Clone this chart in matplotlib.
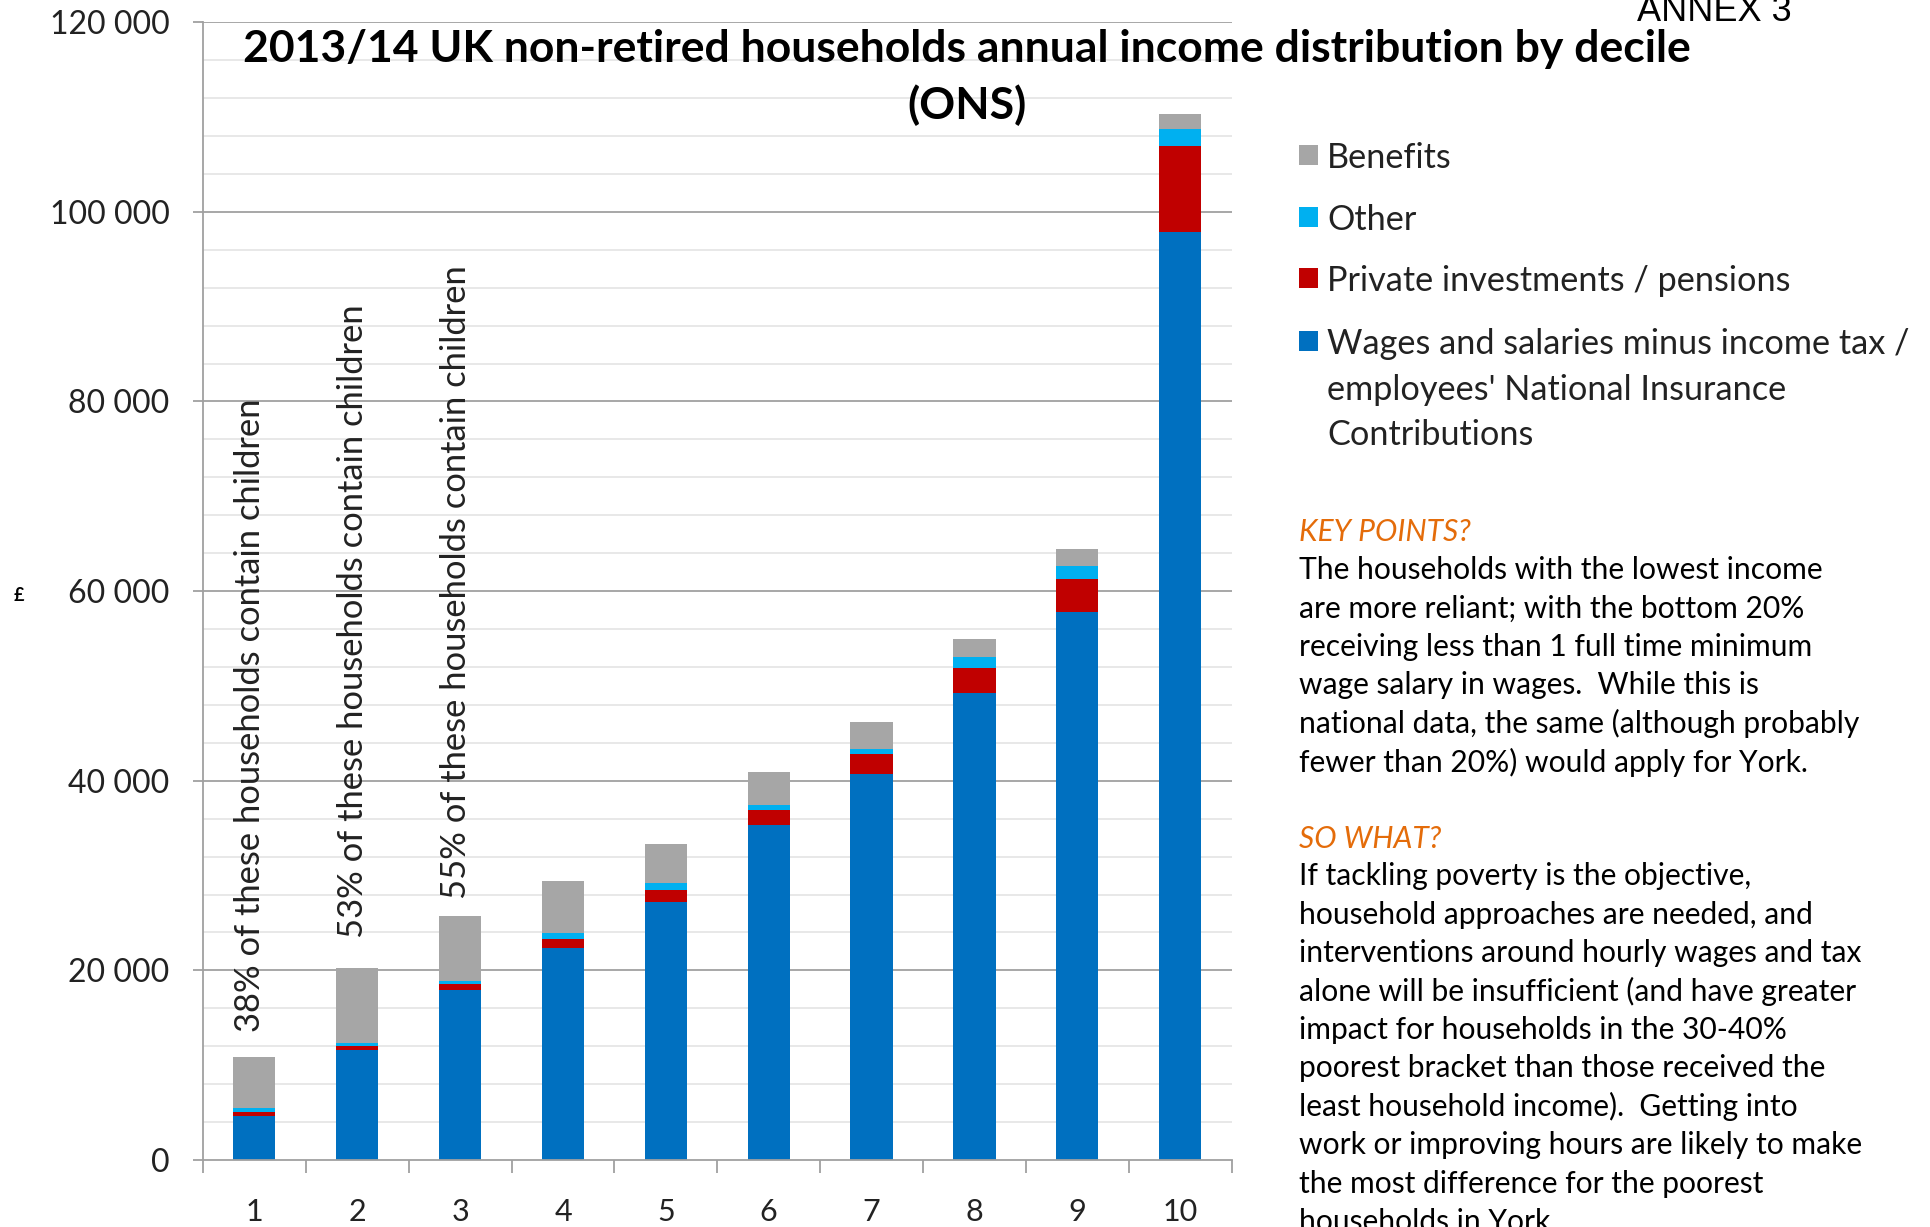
import matplotlib
matplotlib.use("Agg")
import matplotlib.pyplot as plt
from matplotlib.patches import Rectangle
import numpy as np

plt.rcParams['font.family'] = ['Lato', 'DejaVu Sans']

# ONS 2013/14, non-retired households, mean annual income per decile (GBP)
deciles = ['1', '2', '3', '4', '5', '6', '7', '8', '9', '10']
wages = [4600, 11600, 17900, 22400, 27250, 35300, 40700, 49300, 57800, 97900]
private = [460, 420, 680, 960, 1240, 1600, 2150, 2550, 3500, 9080]
other = [430, 290, 280, 530, 680, 550, 500, 1200, 1350, 1760]
benefits = [5390, 7940, 6850, 5530, 4140, 3500, 2800, 1900, 1750, 1620]

children_notes = ["38% of these households contain children",
                  "53% of these households contain children",
                  "55% of these households contain children"]
note_y = [13500, 23400, 27500]

series = [("Wages and salaries minus income tax /\nemployees' National Insurance\nContributions", wages, '#0070C0'),
          ("Private investments / pensions", private, '#C00000'),
          ("Other", other, '#00B0F0'),
          ("Benefits", benefits, '#A6A6A6')]

key_points = ["The households with the lowest income",
              "are more reliant; with the bottom 20%",
              "receiving less than 1 full time minimum",
              "wage salary in wages.  While this is",
              "national data, the same (although probably",
              "fewer than 20%) would apply for York."]
so_what = ["If tackling poverty is the objective,",
           "household approaches are needed, and",
           "interventions around hourly wages and tax",
           "alone will be insufficient (and have greater",
           "impact for households in the 30-40%",
           "poorest bracket than those received the",
           "least household income).  Getting into",
           "work or improving hours are likely to make",
           "the most difference for the poorest",
           "households in York."]

fig = plt.figure(figsize=(19.31, 12.27), dpi=100)
ax = fig.add_axes([0.1051, 0.0546, 0.5327, 0.9273])

x = np.arange(1, 11)
bottom = np.zeros(10)
for name, vals, col in series:
    ax.bar(x, vals, width=0.41, bottom=bottom, color=col, zorder=3)
    bottom += np.array(vals)

ax.set_xlim(0.5, 10.5)
ax.set_ylim(0, 120000)

# gridlines: light every 4 000, darker every 20 000
for v in np.arange(4000, 120001, 4000):
    if v % 20000:
        ax.axhline(v, color='#E6E6E6', lw=1.3, zorder=1)
    else:
        ax.axhline(v, color='#A0A0A0', lw=1.3, zorder=1)

ax.set_yticks(np.arange(0, 120001, 20000))
ax.set_yticklabels([f"{v:,}".replace(',', ' ') for v in range(0, 120001, 20000)])
ax.set_xticks(x)
ax.set_xticklabels(deciles)
ax.set_xticks(np.arange(0.5, 10.6, 1), minor=True)
ax.tick_params(axis='x', which='major', length=0, pad=27, labelsize=22)
ax.tick_params(axis='x', which='minor', length=9, width=1.3, color='#A0A0A0')
ax.tick_params(axis='y', length=7, width=1.3, color='#A0A0A0', pad=17, labelsize=23)
for lab in ax.get_yticklabels() + ax.get_xticklabels():
    lab.set_color('#222222')

for s in ['top', 'right']:
    ax.spines[s].set_visible(False)
for s in ['left', 'bottom']:
    ax.spines[s].set_color('#A0A0A0')
    ax.spines[s].set_linewidth(1.3)
    ax.spines[s].set_zorder(4)

for i, (txt, yv) in enumerate(zip(children_notes, note_y)):
    ax.text(x[i] - 0.04, yv, txt, rotation=90, ha='center', va='bottom',
            fontsize=24.8, color='#222222', zorder=5)

fig.text(0.0096, 0.515, '£', fontsize=13, fontweight='bold', ha='center', va='center')

fig.text(0.5006, 0.9368,
         "2013/14 UK non-retired households annual income distribution by decile\n(ONS)",
         ha='center', va='center', fontsize=32, fontweight='bold', linespacing=1.45)

fig.text(0.888, 0.983, 'ANNEX 3', family='Liberation Sans', fontsize=26,
         ha='center', va='baseline', color='black')

# legend drawn beside the axes, top entry first
leg_y = [155, 217, 278, 341]
for (name, vals, col), yp in zip(series[::-1], leg_y):
    fig.add_artist(Rectangle((1299 / 1931, 1 - (yp + 10) / 1227), 19 / 1931, 20 / 1227,
                             transform=fig.transFigure, color=col, lw=0))
    for k, ln in enumerate(name.split('\n')):
        fig.text(1327 / 1931, 1 - (yp + k * 45.6) / 1227, ln, fontsize=24.7,
                 color='#222222', ha='left', va='center_baseline')

tx = 1299 / 1931
step = 38.4
fig.text(tx, 1 - 529.5 / 1227, 'KEY POINTS?', fontsize=21.6, style='italic',
         color='#E46C0A', va='center_baseline')
for k, ln in enumerate(key_points):
    fig.text(tx, 1 - (567.7 + k * step) / 1227, ln, fontsize=21.6,
             color='black', va='center_baseline')
fig.text(tx, 1 - 836 / 1227, 'SO WHAT?', fontsize=21.6, style='italic',
         color='#E46C0A', va='center_baseline')
for k, ln in enumerate(so_what):
    fig.text(tx, 1 - (874 + k * step) / 1227, ln, fontsize=21.6,
             color='black', va='center_baseline')

fig.savefig('out.png', dpi=100)
